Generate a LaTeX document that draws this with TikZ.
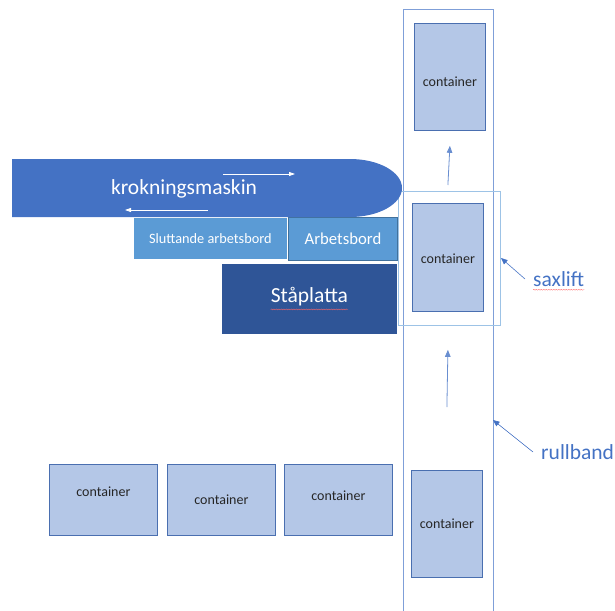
\documentclass[tikz,border=0pt]{standalone}
\usepackage{fontspec}
\setmainfont{Carlito}
\usetikzlibrary{arrows.meta,decorations.pathmorphing}
\definecolor{kblue}{HTML}{4472C4}
\definecolor{ablue}{HTML}{5B9BD5}
\definecolor{abord}{HTML}{41719C}
\definecolor{sblue}{HTML}{2F5597}
\definecolor{cfill}{HTML}{B4C7E7}
\definecolor{cline}{HTML}{4A6FB0}
\definecolor{rline}{HTML}{7F9FD8}
\definecolor{xline}{HTML}{9DC3E6}
\begin{document}
\begin{tikzpicture}[x=1pt,y=-1pt,
  cont/.style={draw=cline, fill=cfill, line width=0.8pt, inner sep=0pt, anchor=north west},
  ctext/.style={font=\fontsize{14}{16}\selectfont, text=black!85, inner sep=0pt},
  frame/.style={line width=0.9pt, inner sep=0pt, anchor=north west},
  lbl/.style={font=\fontsize{21.5}{24}\selectfont, text=kblue, inner sep=0pt},
  larrow/.style={draw=kblue, line width=0.6pt, -{Triangle[width=5.5pt,length=6.5pt]}},
  uparrow/.style={draw=kblue!80, line width=0.8pt, -{Triangle[width=5.5pt,length=7pt]}},
  warrow/.style={draw=white, line width=0.8pt, -{Triangle[width=4pt,length=6pt]}},
  spell/.style={draw=red!60, line width=0.35pt, decorate, decoration={snake, amplitude=0.5pt, segment length=2.5pt}}
]
\useasboundingbox (0,0) rectangle (615,610);

% conveyor and scissor lift frames
\node[frame, draw=rline, minimum width=90pt, minimum height=615pt] (rullband) at (403,9) {};
\node[frame, draw=xline, minimum width=102pt, minimum height=134pt] (saxlift) at (398,191) {};

% tables
\node[draw=white, line width=0.8pt, fill=ablue, anchor=north west, inner sep=0pt,
      minimum width=154pt, minimum height=42pt] (slutt) at (133,217) {};
\node[text=white, font=\fontsize{14.3}{16}\selectfont] at (slutt.center) {Sluttande arbetsbord};
\node[draw=abord, line width=1pt, fill=ablue, anchor=north west, inner sep=0pt,
      minimum width=109pt, minimum height=43pt, text=white,
      font=\fontsize{16.7}{18}\selectfont] (arb) at (288,217) {Arbetsbord};
\node[draw=white, line width=0.8pt, fill=sblue, anchor=north west, inner sep=0pt,
      minimum width=176pt, minimum height=71pt] (stap) at (221,263) {};
\node[text=white, font=\fontsize{21.5}{24}\selectfont, inner sep=0pt] (staptext) at ([yshift=2pt]stap.center) {Ståplatta};
\draw[spell] ([yshift=-3pt]staptext.south west) -- ([yshift=-3pt]staptext.south east);

% bending machine
\fill[kblue] (12,159) -- (350,159) arc[start angle=-90, end angle=90, x radius=52, y radius=29] -- (12,217) -- cycle;
\node[text=white, font=\fontsize{21.5}{24}\selectfont, inner sep=0pt] (km) at (184,189) {krokningsmaskin};
\coordinate (kr1) at (223,174);
\coordinate (kr2) at (295,174);
\coordinate (kl1) at (208,210);
\coordinate (kl2) at (125,210);
\draw[warrow] (kr1) -- (kr2);
\draw[warrow] (kl1) -- (kl2);

% containers on the conveyor
\node[cont, minimum width=71pt, minimum height=107pt] (ctop) at (414,23) {};
\node[ctext] at ([yshift=-4.5pt]ctop.center) {container};
\node[cont, minimum width=71pt, minimum height=108pt] (cmid) at (412,203) {};
\node[ctext] at ([yshift=-1pt]cmid.center) {container};
\node[cont, minimum width=71pt, minimum height=107pt] (cbr) at (411,470) {};
\node[ctext] at (cbr.center) {container};

\draw[uparrow] ([yshift=18pt]cmid.north) -- ([yshift=-15pt]ctop.south);
\draw[uparrow] ([yshift=63pt]cbr.north) -- ([yshift=-38pt]cmid.south);

% waiting containers
\node[cont, minimum width=108pt, minimum height=71pt] (c1) at (49,464) {};
\node[ctext] at ([yshift=8pt]c1.center) {container};
\node[cont, minimum width=108pt, minimum height=71pt] (c2) at (167,464) {};
\node[ctext] at (c2.center) {container};
\node[cont, minimum width=108pt, minimum height=71pt] (c3) at (284,464) {};
\node[ctext] at ([yshift=4pt]c3.center) {container};

% labels
\node[lbl, anchor=west] (saxlbl) at (533,279) {saxlift};
\draw[spell] ([yshift=-3pt]saxlbl.south west) -- ([yshift=-3pt]saxlbl.south east);
\coordinate (saxpt) at (501,258);
\draw[larrow] ([xshift=-8pt]saxlbl.west) -- (saxpt);

\node[lbl, anchor=west] (rblbl) at (541,452) {rullband};
\coordinate (rbpt) at (493,420);
\draw[larrow] ([xshift=-8pt]rblbl.west) -- (rbpt);
\end{tikzpicture}
\end{document}
